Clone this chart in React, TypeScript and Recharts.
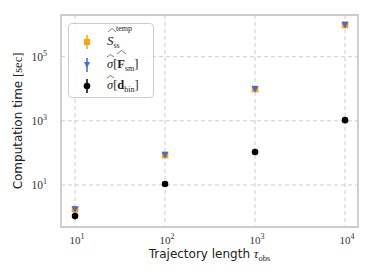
import React from 'react';
import { ScatterChart, Scatter, XAxis, YAxis, CartesianGrid, ReferenceArea, Label } from 'recharts';

// trajectory length (x) and computation time in seconds (y)
const tau = [10, 100, 1000, 10000];
const sTemp = [1.75, 86, 9800, 980000];
const sigmaF = [1.72, 86, 9700, 970000];
const sigmaD = [1.07, 10.7, 107, 1050];

const xTicks = [10, 100, 1000, 10000];
const yTicks = [10, 1000, 100000];

const xDomain: [number, number] = [10 ** 0.844, 10 ** 4.144];
const yDomain: [number, number] = [10 ** -0.31, 10 ** 6.3];

const ORANGE = '#FFA500';
const BLUE = '#4169E1';
const GRID = '#cccccc';
const SERIF = '"Liberation Serif", "DejaVu Serif", serif';
const SANS = '"DejaVu Sans", sans-serif';

const toPoints = (ys: number[]) => tau.map((x, i) => ({ x, y: ys[i] }));

const Square = (p: any) => <rect x={p.cx - 3.3} y={p.cy - 3.3} width={6.6} height={6.6} fill={ORANGE} />;
const TriDown = (p: any) => (
  <path d={`M${p.cx - 3.4},${p.cy - 3.2} L${p.cx + 3.4},${p.cy - 3.2} L${p.cx},${p.cy + 3.4} Z`} fill={BLUE} />
);
const Dot = (p: any) => <circle cx={p.cx} cy={p.cy} r={3.3} fill="#000" />;

const PowTick = ({ x, y, payload, side }: any) => {
  const e = Math.round(Math.log10(payload.value));
  if (side === 'y') {
    return (
      <text x={x - 12} y={y + 4} textAnchor="end" fontFamily={SERIF} fontSize={11.5} fill="#333">
        10<tspan dy={-5} fontSize={8}>{e}</tspan>
      </text>
    );
  }
  return (
    <text x={x + 2} y={y + 15} textAnchor="middle" fontFamily={SERIF} fontSize={11} fill="#333">
      10<tspan dy={-5} fontSize={8}>{e}</tspan>
    </text>
  );
};

const XLabel = ({ viewBox }: any) => (
  <text x={viewBox.x + viewBox.width / 2} y={viewBox.y + 31} textAnchor="middle" fontFamily={SANS} fontSize={12} fill="#222">
    Trajectory length{' '}
    <tspan fontFamily={SERIF} fontStyle="italic" fontSize={13}>τ</tspan>
    <tspan fontFamily={SERIF} fontSize={8.5} dy={3}>obs</tspan>
  </text>
);

const YLabel = ({ viewBox }: any) => {
  const cx = 22;
  const cy = viewBox.y + viewBox.height / 2;
  return (
    <text x={cx} y={cy} transform={`rotate(-90 ${cx} ${cy})`} textAnchor="middle" fontFamily={SANS} fontSize={12} fill="#222">
      Computation time <tspan fontFamily={SERIF} fontSize={12.5}>[sec]</tspan>
    </text>
  );
};

const LegendBox = () => (
  <div
    style={{
      position: 'absolute',
      left: 68,
      top: 23,
      width: 86,
      height: 75,
      border: '1px solid #cccccc',
      borderRadius: 4,
      background: 'rgba(255,255,255,0.85)',
      boxSizing: 'border-box',
    }}
  >
    <svg width={86} height={75} style={{ position: 'absolute', left: -1, top: -1 }}>
      {/* S_ss^temp */}
      <line x1={19} x2={19} y1={12} y2={26} stroke={ORANGE} strokeWidth={1.5} />
      <rect x={16} y={16} width={6} height={6} fill={ORANGE} />
      <path d="M40,9 L44,5.5 L48,9" fill="none" stroke="#222" strokeWidth={0.6} />
      <text x={39} y={22} fontFamily={SERIF} fontSize={13} fill="#222">
        <tspan fontStyle="italic">S</tspan>
        <tspan fontSize={8} dy={3}>ss</tspan>
      </text>
      <text x={48} y={8} fontFamily={SERIF} fontSize={8} fill="#222">temp</text>

      {/* sigma[F_sm] */}
      <line x1={19} x2={19} y1={35} y2={49} stroke={BLUE} strokeWidth={1.5} />
      <path d="M16,39 L22,39 L19,45 Z" fill={BLUE} />
      <path d="M39,34 L42.5,31.5 L46,34" fill="none" stroke="#222" strokeWidth={0.6} />
      <path d="M49,31 L53.5,27.5 L58,31" fill="none" stroke="#222" strokeWidth={0.6} />
      <text x={39} y={45} fontFamily={SERIF} fontSize={12.5} fill="#222">
        <tspan fontStyle="italic">σ</tspan>[<tspan fontWeight="bold">F</tspan>
        <tspan fontSize={8} dy={2.5}>sm</tspan>
        <tspan dy={-2.5}>]</tspan>
      </text>

      {/* sigma[d_bin] */}
      <line x1={19} x2={19} y1={56} y2={70} stroke="#000" strokeWidth={1.5} />
      <circle cx={19} cy={63} r={3.3} fill="#000" />
      <path d="M39,55 L42.5,52.5 L46,55" fill="none" stroke="#222" strokeWidth={0.6} />
      <text x={39} y={66} fontFamily={SERIF} fontSize={12.5} fill="#222">
        <tspan fontStyle="italic">σ</tspan>[<tspan fontWeight="bold">d</tspan>
        <tspan fontSize={8} dy={2.5}>bin</tspan>
        <tspan dy={-2.5}>]</tspan>
      </text>
    </svg>
  </div>
);

export default function App() {
  return (
    <div style={{ position: 'absolute', left: 0, top: 0, width: 374, height: 280, background: '#fff' }}>
      <style>{'body{margin:0}'}</style>
      <ScatterChart width={374} height={280} margin={{ top: 15, right: 16, bottom: 0, left: 0 }}>
        <CartesianGrid stroke={GRID} strokeDasharray="4 3" strokeWidth={1} />
        <XAxis
          dataKey="x"
          type="number"
          scale="log"
          domain={xDomain}
          ticks={xTicks}
          allowDataOverflow
          height={53}
          tickSize={0}
          tickLine={false}
          axisLine={false}
          tick={<PowTick side="x" />}
        >
          <Label content={<XLabel />} />
        </XAxis>
        <YAxis
          dataKey="y"
          type="number"
          scale="log"
          domain={yDomain}
          ticks={yTicks}
          allowDataOverflow
          width={61}
          tickSize={0}
          tickLine={false}
          axisLine={false}
          tick={<PowTick side="y" />}
        >
          <Label content={<YLabel />} />
        </YAxis>
        <ReferenceArea
          x1={xDomain[0]}
          x2={xDomain[1]}
          y1={yDomain[0]}
          y2={yDomain[1]}
          fill="none"
          stroke={GRID}
          strokeWidth={1.8}
          ifOverflow="visible"
        />
        <Scatter name="S_ss^temp" data={toPoints(sTemp)} shape={Square} isAnimationActive={false} />
        <Scatter name="sigma[F_sm]" data={toPoints(sigmaF)} shape={TriDown} isAnimationActive={false} />
        <Scatter name="sigma[d_bin]" data={toPoints(sigmaD)} shape={Dot} isAnimationActive={false} />
      </ScatterChart>
      <LegendBox />
    </div>
  );
}
